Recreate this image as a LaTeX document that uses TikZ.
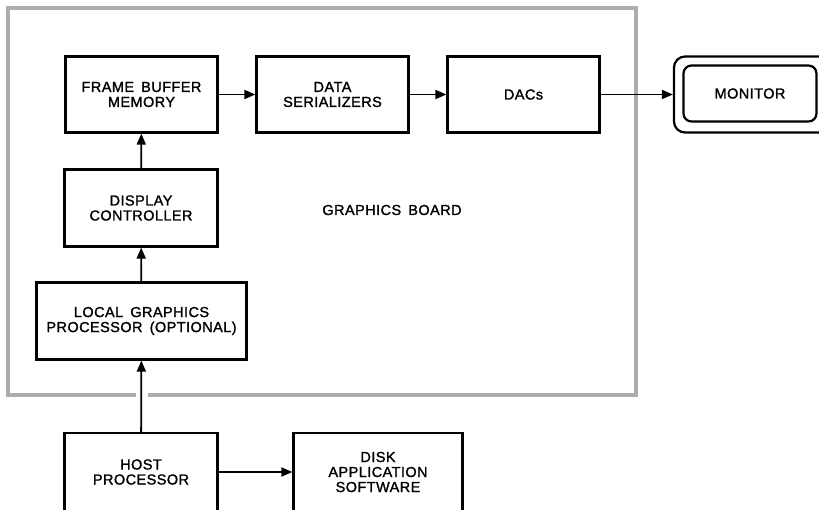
\documentclass[tikz,border=0pt]{standalone}
\usepackage{fontspec}
\setmainfont{Liberation Sans}[LetterSpace=3,WordSpace=1.6,FakeBold=1.4]
\usetikzlibrary{arrows.meta}
\begin{document}
\begin{tikzpicture}[x=1pt,y=-1pt,
  txt/.style={font=\fontsize{14.5}{15}\selectfont, align=center},
  box/.style={txt, draw, line width=2.2pt, inner sep=0pt},
  arr/.style={line width=1.8pt, -{Triangle[length=11pt,width=9pt]}},
  board/.style={draw=black!32, line width=4pt}]
\useasboundingbox (0,0) rectangle (819,509);
\clip (0,0) rectangle (819,509);
% graphics board outline (gap where the host arrow passes)
\draw[board] (148,395) -- (636,395) -- (636,8) -- (8,8) -- (8,395) -- (136,395);
\node[txt] (gb) at (392,210) {GRAPHICS BOARD};
% boxes
\node[box, minimum width=152pt, minimum height=76pt] (fb) at (141.5,94.5) {FRAME BUFFER\\MEMORY};
\node[box, minimum width=152pt, minimum height=76pt] (ds) at (332.5,94.5) {DATA\\SERIALIZERS};
\node[box, minimum width=152pt, minimum height=76pt] (dacs) at (523.5,94.5) {DACs};
\node[draw, line width=2.2pt, rounded corners=11pt, inner sep=0pt, minimum width=160pt, minimum height=76pt] (monout) at (754,94.5) {};
\node[box, rounded corners=8pt, minimum width=133pt, minimum height=56pt] (mon) at (750,93.5) {MONITOR};
\node[box, minimum width=153pt, minimum height=77pt] (dc) at (141,208) {DISPLAY\\CONTROLLER};
\node[box, minimum width=210pt, minimum height=77pt] (lgp) at (141.5,321) {LOCAL GRAPHICS\\PROCESSOR (OPTIONAL)};
\node[box, minimum width=153pt, minimum height=78pt] (host) at (141,472) {HOST\\PROCESSOR};
\node[box, minimum width=169pt, minimum height=78pt] (disk) at (378,472) {DISK\\APPLICATION\\SOFTWARE};
% connectors
\draw[arr] (fb) -- (ds);
\draw[arr] (ds) -- (dacs);
\draw[arr] (dacs) -- (monout);
\draw[arr] (dc) -- (fb);
\draw[arr] (lgp) -- (dc);
\draw[arr] (host) -- (lgp);
\draw[arr] (host) -- (disk);
\end{tikzpicture}
\end{document}
